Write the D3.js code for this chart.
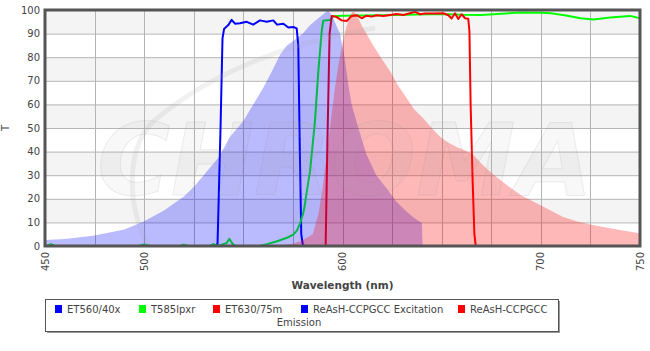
<!DOCTYPE html>
<html>
<head>
<meta charset="utf-8">
<script src="https://cdn.jsdelivr.net/npm/d3@7"></script>
<style>
  body { margin: 0; background: #fff; }
  text { font-family: "DejaVu Sans", Verdana, sans-serif; }
</style>
</head>
<body>
<div id="chart"></div>
<script>
// spectra, [wavelength nm, T %]
const et560 = [[530,0],[536,0],[537,1],[538.5,50],[539.5,88],[540.3,92],[542.4,93.6],[544.1,95.8],[545.8,94.2],[548.3,94.4],[551.7,95],[555,93.8],[558.4,95.6],[561.8,95],[565.1,95.6],[567,93.8],[570.2,94.2],[572.7,92.6],[575.2,92.8],[576.9,92.2],[577.7,85],[578.5,40],[579.2,5],[580,0.5],[581,0]];

const t585 = [[450,0],[451,0],[453,0.8],[455,0],[497,0],[500,0.6],[503,0],[518,0],[520,0.6],[522,0],[533,0],[535,0.8],[537,0],[541.5,1.2],[543,3],[544.5,1],[546,0],[558,0],[562,0.8],[567,2],[572,3.5],[575.2,4.8],[577,6.5],[578.6,9.6],[580.2,14],[581,17.4],[582,23],[583.6,31.5],[586.1,52.7],[587.8,73.9],[589.5,90.8],[590.3,95.5],[593.7,95.8],[595.4,97.3],[600,97.6],[620,97.8],[650,98.3],[660,98],[670,97.9],[680,98.4],[690,98.9],[700,98.8],[705,98.6],[712,97.8],[720,96.5],[726.5,96],[735,96.8],[745,97.5],[750,96.5]];

const et630 = [[591.5,0],[592.3,40],[593.5,90],[594.6,97.5],[597.1,97],[599.6,95.6],[602.1,95.3],[604.6,97.5],[607.2,97.8],[609.7,96.5],[612.2,97.6],[614.7,97.2],[617.2,97.8],[620.6,97.5],[624,97.9],[627.3,98.3],[630.7,97.9],[634,98.6],[636.6,99.2],[639.1,98.2],[641.6,98.5],[645.8,98.5],[650.8,98.6],[653.4,97.8],[655,96.4],[656.7,98.6],[658.4,96.2],[660.1,98.2],[661.8,96.5],[663.4,96.3],[664,91],[664.6,60],[665.6,28],[666.5,5],[667.2,0]];

const excitation = [[450,2.5],[460,3],[475,4.5],[490,7],[500,10.5],[510,15],[520,21],[525,25],[530,30],[538,38],[543,46],[550,53],[555,60],[560,67],[565,75],[568.5,81],[572,85],[577,88],[580,90],[583.6,93.5],[587,96],[590,98],[592.8,100],[595,97],[598.7,90],[601,80],[603,68],[604.6,60],[608,50],[612,39],[617,30],[622.3,24.4],[627,19],[632.4,14.5],[636,12],[640,9.7],[640.4,0]];

const emission = [[565,0],[575,1],[580,2.5],[585,5],[588,14],[590,25],[592,38],[594,52],[596,66],[598,77],[600,86],[602,93],[604,98],[605.5,99.5],[607,98],[610,93],[615.5,85],[620,79],[624,74],[628,68],[632.4,62.6],[636,58],[640.8,54],[645,50],[649.2,46.3],[653,44],[657.6,42],[662,40.5],[666,38.6],[670,35],[674.4,31.5],[678,29],[682.8,25.8],[690,21.5],[699.6,17.4],[705,15],[711,12.4],[718,10.5],[726,8.9],[735,7.5],[742,6.5],[750,5.4]];

const yTicks = [0,10,20,30,40,50,60,70,80,90,100];
const xGrid = [450,475,500,525,550,575,600,625,650,675,700,725,750];
const xTickLabels = [450,500,600,700,750];

const lineSeries = [
  { name: "ET560/40x", data: et560, color: "#0000ff" },
  { name: "T585lpxr", data: t585, color: "#00ff00" },
  { name: "ET630/75m", data: et630, color: "#ff0000" }
];
const fillSeries = [
  { name: "ReAsH-CCPGCC Excitation", data: excitation, color: "rgba(0,0,255,0.27)" },
  { name: "ReAsH-CCPGCC Emission", data: emission, color: "rgba(255,0,0,0.28)" }
];

const margin = { top: 10, right: 10, bottom: 105, left: 45 },
    width = 650 - margin.left - margin.right,
    height = 351 - margin.top - margin.bottom;

const svgRoot = d3.select("#chart")
    .append("svg")
    .attr("width", 650)
    .attr("height", 351);

const svg = svgRoot.append("g")
    .attr("transform", `translate(${margin.left},${margin.top})`);

const x = d3.scaleLinear().domain([450, 750]).range([0, width]);
const y = d3.scaleLinear().domain([0, 100]).range([height, 0]);

svgRoot.append("defs").append("clipPath")
    .attr("id", "plot-clip")
    .append("rect")
    .attr("width", width)
    .attr("height", height);

// alternating bands
svg.selectAll(".band")
    .data(yTicks.slice(0, -1))
    .enter()
    .append("rect")
    .attr("x", 0)
    .attr("y", d => y(d + 10))
    .attr("width", width)
    .attr("height", y(0) - y(10))
    .attr("fill", d => (d / 10) % 2 === 1 ? "#f4f4f4" : "#ffffff");

// grid
svg.selectAll(".hgrid")
    .data(yTicks)
    .enter()
    .append("line")
    .attr("x1", 0).attr("x2", width)
    .attr("y1", d => y(d) + 0.5).attr("y2", d => y(d) + 0.5)
    .attr("stroke", "#b4b4b4");

svg.selectAll(".vgrid")
    .data(xGrid)
    .enter()
    .append("line")
    .attr("y1", 0).attr("y2", height)
    .attr("x1", d => Math.round(x(d)) + 0.5).attr("x2", d => Math.round(x(d)) + 0.5)
    .attr("stroke", "#b4b4b4");

const plot = svg.append("g").attr("clip-path", "url(#plot-clip)");

const line = d3.line().x(d => x(d[0])).y(d => y(d[1]));
const area = d3.area().x(d => x(d[0])).y0(y(0)).y1(d => y(d[1]));

// filter curves first, the spectra are painted over them
plot.selectAll(".filter")
    .data(lineSeries)
    .enter()
    .append("path")
    .attr("d", d => line(d.data))
    .attr("fill", "none")
    .attr("stroke", d => d.color)
    .attr("stroke-width", 2)
    .attr("stroke-linejoin", "round");

plot.selectAll(".spectrum")
    .data(fillSeries)
    .enter()
    .append("path")
    .attr("d", d => area(d.data))
    .attr("fill", d => d.color);

// faint watermark
const wm = plot.append("g");
wm.append("path")
    .attr("d", "M 103 236 C 80 190, 82 135, 110 110 C 160 68, 230 35, 330 18")
    .attr("fill", "none")
    .attr("stroke", "rgba(170,170,170,0.16)")
    .attr("stroke-width", 5);
wm.append("text")
    .attr("x", 300)
    .attr("y", 185)
    .attr("text-anchor", "middle")
    .attr("font-size", 100)
    .attr("font-style", "italic")
    .attr("font-weight", "bold")
    .attr("fill", "rgba(170,170,170,0.08)")
    .attr("stroke", "rgba(150,150,150,0.15)")
    .text("CHROMA");

// frame
svg.append("rect")
    .attr("x", 0).attr("y", 0)
    .attr("width", width).attr("height", height)
    .attr("fill", "none")
    .attr("stroke", "#555")
    .attr("stroke-width", 3);

// y labels
svg.selectAll(".ylab")
    .data(yTicks)
    .enter()
    .append("text")
    .attr("x", -5)
    .attr("y", d => y(d))
    .attr("dy", "0.35em")
    .attr("text-anchor", "end")
    .attr("font-size", 10)
    .attr("fill", "#444")
    .text(d => d);

// x labels, rotated
svg.selectAll(".xlab")
    .data(xTickLabels)
    .enter()
    .append("text")
    .attr("transform", d => `translate(${x(d)},${height + 6}) rotate(-90)`)
    .attr("dy", "0.35em")
    .attr("text-anchor", "end")
    .attr("font-size", 10)
    .attr("fill", "#444")
    .text(d => d);

svg.append("text")
    .attr("x", width / 2)
    .attr("y", height + 43)
    .attr("text-anchor", "middle")
    .attr("font-size", 10.5)
    .attr("font-weight", "bold")
    .attr("fill", "#444")
    .text("Wavelength (nm)");

svgRoot.append("text")
    .attr("transform", `translate(9,${margin.top + height / 2}) rotate(-90)`)
    .attr("text-anchor", "middle")
    .attr("font-size", 10)
    .attr("fill", "#444")
    .text("T");

// legend
const legend = svgRoot.append("g").attr("transform", "translate(45,299)");
legend.append("rect")
    .attr("x", 2).attr("y", 2)
    .attr("width", 513).attr("height", 32)
    .attr("fill", "#999");
legend.append("rect")
    .attr("x", 0.5).attr("y", 0.5)
    .attr("width", 513).attr("height", 32)
    .attr("fill", "#fff")
    .attr("stroke", "#555");

const legendItems = [
  { label: "ET560/40x", color: "#0000ff", x: 10 },
  { label: "T585lpxr", color: "#00ff00", x: 94 },
  { label: "ET630/75m", color: "#ff0000", x: 168 },
  { label: "ReAsH-CCPGCC Excitation", color: "#0000ff", x: 256 },
  { label: "ReAsH-CCPGCC", color: "#ff0000", x: 413 }
];

const li = legend.selectAll(".item")
    .data(legendItems)
    .enter()
    .append("g")
    .attr("transform", d => `translate(${d.x},6)`);
li.append("rect")
    .attr("width", 7).attr("height", 8)
    .attr("fill", d => d.color);
li.append("text")
    .attr("x", 12)
    .attr("y", 4)
    .attr("dy", "0.35em")
    .attr("font-size", 10)
    .attr("fill", "#444")
    .text(d => d.label);
legend.append("text")
    .attr("x", 254)
    .attr("y", 27)
    .attr("text-anchor", "middle")
    .attr("font-size", 10)
    .attr("fill", "#444")
    .text("Emission");
</script>
</body>
</html>
